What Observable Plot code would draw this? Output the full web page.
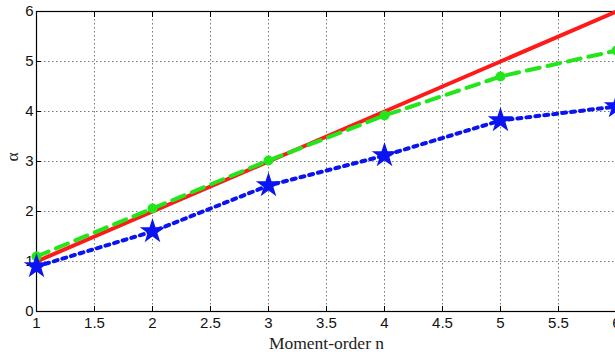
<!DOCTYPE html>
<html>
<head>
<meta charset="utf-8">
<script src="https://cdn.jsdelivr.net/npm/d3@7"></script>
<script src="https://cdn.jsdelivr.net/npm/@observablehq/plot@0.6"></script>
<style>
html,body{margin:0;padding:0;background:#fff;overflow:hidden;}
svg{display:block;max-width:none !important;}
</style>
</head>
<body>
<div id="chart"></div>
<script>
const orders = [1, 2, 3, 4, 5, 6];
const theory = [1, 2, 3, 4, 5, 6];
const greenVals = [1.1, 2.06, 3.02, 3.92, 4.7, 5.22];
const blueVals = [0.9, 1.6, 2.52, 3.12, 3.82, 4.1];
const xTicks = [1, 1.5, 2, 2.5, 3, 3.5, 4, 4.5, 5, 5.5, 6];
const yTicks = [0, 1, 2, 3, 4, 5, 6];

const red = orders.map((n, i) => ({n, v: theory[i]}));
const green = orders.map((n, i) => ({n, v: greenVals[i]}));
const blue = orders.map((n, i) => ({n, v: blueVals[i]}));

const plot = Plot.plot({
  width: 625,
  height: 360,
  marginLeft: 36,
  marginRight: 9,
  marginTop: 11,
  marginBottom: 49,
  x: {domain: [1, 6]},
  y: {domain: [0, 6]},
  style: {background: "#fff", maxWidth: "none"},
  marks: [
    Plot.gridX(xTicks, {stroke: "#555", strokeOpacity: 0.8, strokeDasharray: "1.5,2.5", strokeWidth: 1}),
    Plot.gridY(yTicks, {stroke: "#555", strokeOpacity: 0.8, strokeDasharray: "1.5,2.5", strokeWidth: 1}),
    Plot.axisX(xTicks, {anchor: "bottom", tickSize: -5, tickPadding: 11, stroke: "#000", fontSize: 15, fontFamily: "Liberation Sans, Arial, sans-serif", fill: "#111", label: null, tickFormat: d => String(d)}),
    Plot.axisX(xTicks, {anchor: "top", tickSize: -5, stroke: "#000", text: null, label: null}),
    Plot.axisY(yTicks, {anchor: "left", tickSize: -5, tickPadding: 8, stroke: "#000", fontSize: 15, fontFamily: "Liberation Sans, Arial, sans-serif", fill: "#111", label: null, tickFormat: d => String(d)}),
    Plot.frame({stroke: "#000", strokeWidth: 1.2}),
    Plot.line(red, {x: "n", y: "v", stroke: "#ff1a1a", strokeWidth: 4}),
    Plot.line(green, {x: "n", y: "v", stroke: "#22e61a", strokeWidth: 4, strokeDasharray: "13,8"}),
    Plot.dot(green, {x: "n", y: "v", r: 5, fill: "#22e61a", stroke: "none"}),
    Plot.line(blue, {x: "n", y: "v", stroke: "#0a14f0", strokeWidth: 4, strokeDasharray: "4,5"}),
    Plot.dot(blue, {x: "n", y: "v", symbol: "star", r: 8, fill: "#0a14f0", stroke: "none"}),
    Plot.text(["Moment-order n"], {frameAnchor: "bottom", dy: 37, fontSize: 17.5, fontFamily: "Liberation Serif, Times New Roman, serif", fill: "#222"}),
    Plot.text(["α"], {frameAnchor: "left", dx: -24, dy: 0, rotate: -90, fontSize: 17.5, fontFamily: "Liberation Serif, Times New Roman, serif", fill: "#222"})
  ]
});
document.getElementById("chart").appendChild(plot);
</script>
</body>
</html>
